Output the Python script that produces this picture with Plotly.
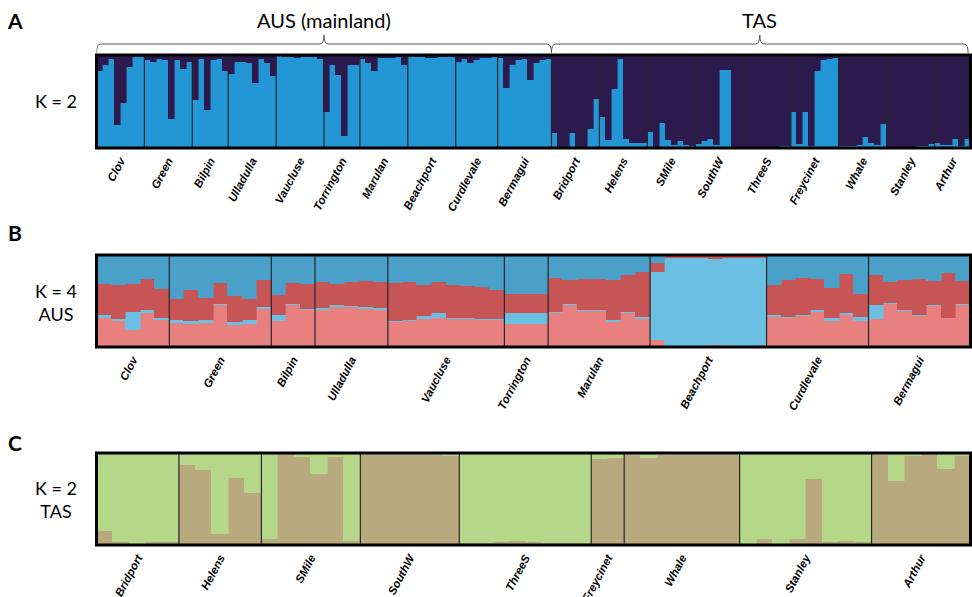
import numpy as np
import plotly.graph_objects as go

# ---------------- data ----------------
aus_pops = ["Clov", "Green", "Bilpin", "Ulladulla", "Vaucluse", "Torrington",
            "Marulan", "Beachport", "Curdlevale", "Bermagui"]
tas_pops = ["Bridport", "Helens", "SMile", "SouthW", "ThreeS", "Freycinet",
            "Whale", "Stanley", "Arthur"]

# Panel A (K=2, all populations): membership in the mainland (light blue) cluster
a_mainland = [
    [0.83, 0.89, 0.96, 0.25, 0.48, 0.87, 0.98, 0.98],          # Clov
    [0.95, 0.92, 0.96, 0.95, 0.31, 0.95, 0.85, 0.93],          # Green
    [0.52, 0.96, 0.41, 0.95, 0.96, 0.83],                      # Bilpin
    [0.80, 0.93, 0.92, 0.91, 0.70, 0.96, 0.91, 0.77],          # Ulladulla
    [0.99, 0.98, 0.98, 0.97, 0.98, 0.98, 0.98, 0.96],          # Vaucluse
    [0.39, 0.89, 0.79, 0.13, 0.89, 0.89],                      # Torrington
    [0.96, 0.91, 0.83, 0.97, 0.97, 0.97, 0.98, 0.89],          # Marulan
    [0.98, 0.98, 0.98, 0.97, 0.97, 0.98, 0.98, 0.98],          # Beachport
    [0.92, 0.96, 0.91, 0.95, 0.97, 0.97, 0.98],                # Curdlevale
    [0.97, 0.64, 0.89, 0.95, 0.96, 0.73, 0.91, 0.95, 0.96],    # Bermagui
    [0.16, 0.01, 0.01, 0.16, 0.01, 0.01, 0.20, 0.53],          # Bridport
    [0.33, 0.09, 0.63, 0.96, 0.10, 0.05, 0.05, 0.05],          # Helens
    [0.17, 0.01, 0.27, 0.09, 0.03, 0.08, 0.03, 0.02],          # SMile
    [0.04, 0.08, 0.10, 0.03, 0.84, 0.84, 0.01, 0.01],          # SouthW
    [0.01, 0.01, 0.01, 0.01, 0.01, 0.01, 0.02, 0.02],          # ThreeS
    [0.39, 0.04, 0.39, 0.02, 0.83, 0.95, 0.96, 0.97],          # Freycinet
    [0.02, 0.02, 0.02, 0.03, 0.12, 0.05, 0.03, 0.26],          # Whale
    [0.01, 0.01, 0.01, 0.01, 0.01, 0.02, 0.02, 0.04],          # Stanley
    [0.05, 0.03, 0.03, 0.10, 0.02, 0.10],                      # Arthur
]

# Panel B (K=4, AUS): cluster memberships (bottom to top); top cluster = remainder
b_pink = [
    [0.32, 0.28, 0.19, 0.37, 0.29],
    [0.26, 0.25, 0.26, 0.46, 0.24, 0.25, 0.41],
    [0.28, 0.46, 0.40],
    [0.40, 0.43, 0.43, 0.41, 0.40],
    [0.27, 0.28, 0.30, 0.31, 0.30, 0.30, 0.29, 0.29],
    [0.25, 0.25, 0.25],
    [0.37, 0.46, 0.39, 0.39, 0.27, 0.37, 0.30],
    [0.08, 0.01, 0.01, 0.01, 0.02, 0.01, 0.01, 0.01],
    [0.33, 0.31, 0.34, 0.38, 0.28, 0.35, 0.28],
    [0.30, 0.47, 0.39, 0.34, 0.45, 0.31, 0.46],
]
b_lightblue = [
    [0.03, 0.02, 0.19, 0.03, 0.02],
    [0.03, 0.03, 0.03, 0.01, 0.03, 0.04, 0.02],
    [0.07, 0.01, 0.01],
    [0.02, 0.03, 0.02, 0.02, 0.02],
    [0.01, 0.01, 0.04, 0.06, 0.01, 0.01, 0.01, 0.01],
    [0.12, 0.12, 0.12],
    [0.01, 0.01, 0.01, 0.01, 0.02, 0.01, 0.03],
    [0.74, 0.96, 0.96, 0.96, 0.94, 0.96, 0.96, 0.96],
    [0.02, 0.02, 0.01, 0.02, 0.04, 0.02, 0.05],
    [0.16, 0.01, 0.01, 0.01, 0.01, 0.01, 0.01],
]
b_red = [
    [0.34, 0.37, 0.31, 0.34, 0.32],
    [0.23, 0.34, 0.24, 0.23, 0.28, 0.23, 0.30],
    [0.21, 0.23, 0.28],
    [0.29, 0.23, 0.26, 0.29, 0.29],
    [0.42, 0.42, 0.33, 0.34, 0.36, 0.35, 0.35, 0.32],
    [0.21, 0.21, 0.21],
    [0.37, 0.26, 0.34, 0.34, 0.44, 0.40, 0.49],
    [0.09, 0.02, 0.02, 0.02, 0.03, 0.02, 0.02, 0.02],
    [0.32, 0.40, 0.40, 0.34, 0.32, 0.42, 0.25],
    [0.32, 0.23, 0.33, 0.39, 0.26, 0.48, 0.25],
]

# Panel C (K=2, TAS): membership in the tan cluster (bottom); green = remainder
c_tan = [
    [0.15, 0.03, 0.01, 0.03, 0.03],
    [0.87, 0.81, 0.12, 0.73, 0.56],
    [0.06, 0.99, 0.96, 0.77, 0.96, 0.04],
    [0.98, 0.98, 0.98, 0.98, 0.98, 0.97],
    [0.02, 0.02, 0.03, 0.04, 0.03, 0.02, 0.02, 0.02],
    [0.94, 0.95],
    [0.98, 0.95, 0.98, 0.98, 0.98, 0.98, 0.98],
    [0.01, 0.06, 0.01, 0.06, 0.72, 0.03, 0.04, 0.03],
    [0.98, 0.70, 0.97, 0.99, 0.83, 0.97],
]

# ---------------- styling ----------------
W, H = 972, 597
X0, X1 = 96.5, 970.5
PANELS = {"A": (55, 148), "B": (255, 347), "C": (453, 545)}
COL_DARK = "#2c1a4c"
COL_LBLUE_A = "#2397d5"
COL_STEEL = "#4aa0c8"
COL_RED = "#c85556"
COL_PINK = "#e88080"
COL_LBLUE_B = "#6bbfe2"
COL_TAN = "#b8a97f"
COL_GREEN = "#b5d78a"
LABEL_FONT = "Lato"
TICK_FONT = dict(family="Liberation Sans, Arial", size=11.5, color="black",
                 weight="bold", style="italic")

fig = go.Figure()


def flat(groups):
    return np.array([v for g in groups for v in g], dtype=float)


def add_bar(y, color, xa, ya):
    x = np.arange(len(y))
    fig.add_trace(go.Bar(x=x, y=y, width=1.0, marker=dict(color=color, line=dict(width=0.6, color=color)),
                         xaxis=xa, yaxis=ya, showlegend=False, hoverinfo="skip"))


# Panel A
a_light = flat(a_mainland)
add_bar(a_light, COL_LBLUE_A, "x", "y")
add_bar(1 - a_light, COL_DARK, "x", "y")

# Panel B
bp, bl, br = flat(b_pink), flat(b_lightblue), flat(b_red)
add_bar(bp, COL_PINK, "x2", "y2")
add_bar(bl, COL_LBLUE_B, "x2", "y2")
add_bar(br, COL_RED, "x2", "y2")
add_bar(1 - bp - bl - br, COL_STEEL, "x2", "y2")

# Panel C
ct = flat(c_tan)
add_bar(ct, COL_TAN, "x3", "y3")
add_bar(1 - ct, COL_GREEN, "x3", "y3")

shapes = []
annotations = []


def setup_axes(idx, names, groups, key):
    top, bot = PANELS[key]
    counts = [len(g) for g in groups]
    edges = np.concatenate([[0], np.cumsum(counts)])
    centers = (edges[:-1] + edges[1:]) / 2 - 0.5
    n = edges[-1]
    sfx = "" if idx == 1 else str(idx)
    fig.layout["xaxis" + sfx] = dict(
        domain=[X0 / W, X1 / W], anchor="y" + sfx, range=[-0.5, n - 0.5],
        tickvals=centers, ticktext=names, tickangle=-62, tickfont=TICK_FONT,
        showgrid=False, zeroline=False, ticks="", showline=False, fixedrange=True,
        automargin=False, ticklabelstandoff=3)
    fig.layout["yaxis" + sfx] = dict(
        domain=[1 - bot / H, 1 - top / H], anchor="x" + sfx, range=[0, 1],
        showgrid=False, zeroline=False, showticklabels=False, ticks="", fixedrange=True,
        automargin=False)
    for e in edges[1:-1]:
        shapes.append(dict(type="line", xref="x" + sfx, yref="y" + sfx + " domain",
                           x0=e - 0.5, x1=e - 0.5, y0=0, y1=1,
                           line=dict(color="#262626", width=1.2), layer="above"))
    shapes.append(dict(type="rect", xref="x" + sfx + " domain", yref="y" + sfx + " domain",
                       x0=0, x1=1, y0=0, y1=1, line=dict(color="black", width=3),
                       fillcolor="rgba(0,0,0,0)", layer="above"))
    return edges


edges_a = setup_axes(1, aus_pops + tas_pops, a_mainland, "A")
setup_axes(2, aus_pops, b_pink, "B")
setup_axes(3, tas_pops, c_tan, "C")

fig.update_layout(barmode="stack", bargap=0)


# Braces over panel A
def py(p):
    return 1 - p / H


n_aus = sum(len(g) for g in a_mainland[:len(aus_pops)])
n_all = edges_a[-1]
y_end, y_h, y_pk = py(53), py(44), py(35)
d = 0.7


def brace(xa, xb):
    m = (xa + xb) / 2
    return (f"M {xa},{y_end} Q {xa},{y_h} {xa + d},{y_h} L {m - d},{y_h} "
            f"Q {m},{y_h} {m},{y_pk} Q {m},{y_h} {m + d},{y_h} "
            f"L {xb - d},{y_h} Q {xb},{y_h} {xb},{y_end}")


for xa, xb, label in [(-0.5, n_aus - 0.5, "AUS (mainland)"),
                      (n_aus - 0.5, n_all - 0.9, "TAS")]:
    shapes.append(dict(type="path", xref="x", yref="paper", path=brace(xa, xb),
                       line=dict(color="#555555", width=1)))
    annotations.append(dict(x=(xa + xb) / 2, y=py(20), xref="x", yref="paper",
                            text=label, showarrow=False, xanchor="center", yanchor="middle",
                            font=dict(family=LABEL_FONT, size=20, color="black")))

for letter, ypx in [("A", 20), ("B", 232), ("C", 442)]:
    annotations.append(dict(x=15 / W, y=py(ypx), xref="paper", yref="paper", text=letter,
                            showarrow=False, xanchor="center", yanchor="middle",
                            font=dict(family=LABEL_FONT, size=21, color="black", weight="bold")))

for text, ypx in [("K = 2", 101), ("K = 4<br>AUS", 302), ("K = 2<br>TAS", 499)]:
    annotations.append(dict(x=56 / W, y=py(ypx), xref="paper", yref="paper", text=text,
                            showarrow=False, align="center", xanchor="center", yanchor="middle",
                            font=dict(family=LABEL_FONT, size=18, color="black")))

fig.update_layout(
    width=W, height=H, autosize=False,
    margin=dict(l=0, r=0, t=0, b=0),
    paper_bgcolor="white", plot_bgcolor="white",
    shapes=shapes, annotations=annotations,
)

fig.write_html("out.html", config={"displayModeBar": False},
               post_script="document.body.style.margin='0';document.body.style.overflow='hidden';")
